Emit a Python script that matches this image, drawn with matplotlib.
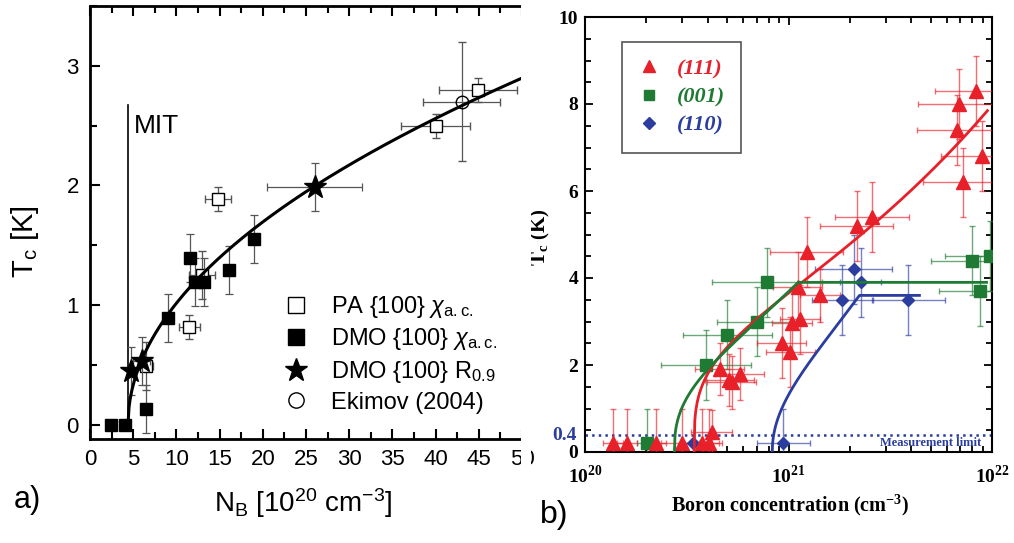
import numpy as np
import matplotlib
matplotlib.use('Agg')
import matplotlib.pyplot as plt
from matplotlib.colors import to_rgba
from matplotlib.lines import Line2D
from matplotlib.ticker import MultipleLocator, LogLocator, NullFormatter, FixedLocator

plt.rcParams['font.family'] = ['Liberation Sans', 'DejaVu Sans']
plt.rcParams['mathtext.fontset'] = 'custom'
plt.rcParams['mathtext.rm'] = 'Liberation Sans'
plt.rcParams['mathtext.it'] = 'Liberation Sans:italic'
plt.rcParams['mathtext.bf'] = 'Liberation Serif:bold'

# ---- panel a data (N_B in 1e20 cm^-3, Tc in K) ----
pa_x = [6.5, 11.5, 13.0, 14.8, 40.0, 44.9]
pa_y = [0.49, 0.82, 1.25, 1.89, 2.50, 2.80]
pa_xerr = [0.8, 1.2, 1.5, 1.5, 4.0, 4.5]
pa_yerr = [0.2, 0.1, 0.2, 0.1, 0.1, 0.1]

dmo_x = [2.4, 4.05, 6.5, 9.07, 11.6, 12.15, 13.2, 16.1, 19.0]
dmo_y = [0.0, 0.0, 0.13, 0.89, 1.39, 1.19, 1.19, 1.29, 1.55]
dmo_yerr = [0.0, 0.0, 0.2, 0.2, 0.2, 0.2, 0.2, 0.2, 0.2]

star_x = [4.75, 6.0, 26.0]
star_y = [0.45, 0.53, 1.99]
star_xerr = [0.5, 1.0, 5.5]
star_yerr = [0.2, 0.2, 0.2]

eki_x = [43.0]
eki_y = [2.70]
eki_xerr = [4.5]
eki_yerr = [0.5]

# fit Tc = A (n/nc - 1)^p
fit_a = dict(A=0.90, nc=4.4, p=0.5, end=50.0)
mit_x = 4.4
mit_top = 2.67

# ---- panel b data (boron conc. cm^-3, Tc in K) ----
r_x = [1.37e20, 1.61e20, 2.23e20, 2.99e20, 3.74e20, 4.08e20, 4.20e20,
       4.60e20, 5.12e20, 5.25e20, 5.75e20, 9.27e20, 1.02e21, 1.04e21,
       1.14e21, 1.11e21, 1.43e21, 1.23e21, 2.16e21, 2.57e21,
       6.89e21, 8.32e21, 6.76e21, 8.91e21, 7.24e21]
r_y = [0.2, 0.2, 0.2, 0.2, 0.2, 0.2, 0.47,
       1.9, 1.65, 1.6, 1.8, 2.5, 2.3, 2.96,
       3.05, 3.8, 3.6, 4.6, 5.2, 5.4,
       8.0, 8.3, 7.4, 6.8, 6.2]
r_xerr = [0.05, 0.05, 0.05, 0.1, 0.1, 0.05, 0.1,
          0.12, 0.12, 0.12, 0.12, 0.12, 0.12, 0.1,
          0.1, 0.12, 0.1, 0.18, 0.18, 0.18,
          0.2, 0.2, 0.2, 0.2, 0.2]
r_yerr = [0.8, 0.8, 0.8, 0.8, 0.8, 0.8, 0.5,
          0.6, 0.6, 0.6, 0.6, 0.8, 0.8, 0.8,
          0.8, 0.8, 0.6, 0.8, 0.8, 0.8,
          0.8, 0.8, 0.8, 0.8, 0.8]

g_x = [2.01e20, 3.92e20, 5.01e20, 7.03e20, 7.82e20, 7.94e21, 9.77e21, 8.71e21]
g_y = [0.2, 2.0, 2.7, 3.0, 3.9, 4.4, 4.5, 3.7]
g_xerr = [0.05, 0.22, 0.22, 0.2, 0.27, 0.2, 0.22, 0.2]
g_yerr = [0.8, 0.8, 0.8, 0.8, 0.8, 0.8, 0.8, 0.8]

b_x = [3.40e20, 9.44e20, 1.84e21, 2.09e21, 2.26e21, 3.88e21]
b_y = [0.2, 0.2, 3.5, 4.2, 3.9, 3.5]
b_xerr = [0.05, 0.13, 0.15, 0.19, 0.1, 0.18]
b_yerr = [0.0, 0.8, 0.8, 0.8, 0.8, 0.8]

fit_r = dict(A=3.03, nc=3.44e20, p=0.29, cap=None, end=9.5e21)
fit_g = dict(A=2.55, nc=2.75e20, p=0.38, cap=3.9, end=9.4e21)
fit_b = dict(A=2.81, nc=8.32e20, p=0.476, cap=3.6, end=4.4e21)
meas_limit = 0.4

RED = '#e8202a'
GREEN = '#1f7a34'
BLUE = '#2b3d9e'

W, H = 1014, 543
fig = plt.figure(figsize=(W / 100, H / 100), dpi=100)


def fx(px):
    return px / W


def fy(py):
    return 1 - py / H


# ================= panel a =================
ax = fig.add_axes([fx(90), fy(439), fx(522) - fx(90), fy(6) - fy(439)])
ax.set_xlim(0, 50)
ax.set_ylim(-0.12, 3.5)
ax.spines['right'].set_visible(False)
for s in ax.spines.values():
    s.set_linewidth(2)
ax.xaxis.set_major_locator(MultipleLocator(5))
ax.xaxis.set_minor_locator(MultipleLocator(2.5))
ax.yaxis.set_major_locator(MultipleLocator(1))
ax.yaxis.set_minor_locator(MultipleLocator(0.5))
ax.tick_params(which='both', direction='in', top=True, right=False, width=1.5)
ax.tick_params(which='major', length=7, labelsize=16)
ax.tick_params(which='minor', length=5)
ax.tick_params(axis='y', pad=8)
ax.tick_params(axis='x', pad=7)

ekw = dict(ecolor='#555555', elinewidth=0.9, capsize=3, capthick=0.9, ls='none')
ax.errorbar(pa_x, pa_y, xerr=pa_xerr, yerr=pa_yerr, fmt='s', mfc='white', mec='black',
            ms=8.5, mew=1, zorder=3, **ekw)
ax.errorbar(dmo_x, dmo_y, yerr=dmo_yerr, fmt='s', mfc='black', mec='black',
            ms=8.5, zorder=4, **ekw)
ax.errorbar(eki_x, eki_y, xerr=eki_xerr, yerr=eki_yerr, fmt='o', mfc='none', mec='black',
            ms=9, mew=1, zorder=4, **ekw)
ax.errorbar(star_x, star_y, xerr=star_xerr, yerr=star_yerr, fmt='*', mfc='black', mec='black',
            ms=17, zorder=5, **ekw)

n = np.linspace(fit_a['nc'], fit_a['end'], 400)
ax.plot(n, fit_a['A'] * np.sqrt(np.clip(n / fit_a['nc'] - 1, 0, None)), color='black',
        lw=2.2, zorder=6)
ax.plot([mit_x, mit_x], [-0.03, mit_top], color='black', lw=1.2)
ax.text(5.1, 2.5, 'MIT', fontsize=19, va='center', ha='left')

handles = [
    Line2D([], [], ls='none', marker='s', mfc='white', mec='black', ms=11),
    Line2D([], [], ls='none', marker='s', mfc='black', mec='black', ms=11),
    Line2D([], [], ls='none', marker='*', mfc='black', mec='black', ms=17),
    Line2D([], [], ls='none', marker='o', mfc='white', mec='black', ms=11),
]
labels = [r'PA {100} $\chi_{\mathrm{a.c.}}$', r'DMO {100} $\chi_{\mathrm{a.c.}}$',
          r'DMO {100} $\mathrm{R}_{0.9}$', 'Ekimov (2004)']
ax.legend(handles, labels, loc='upper left', bbox_to_anchor=(fx(272), fy(282)),
          bbox_transform=fig.transFigure, frameon=False, fontsize=17,
          handlelength=1.0, handletextpad=1.0, labelspacing=0.28, borderpad=0)

ax.set_xticks([0, 5, 10, 15, 20, 25, 30, 35, 40, 45, 50])
fig.text(fx(25), fy(242), r'T$_\mathrm{c}$ [K]', rotation=90, fontsize=21,
         ha='center', va='center')
fig.text(fx(303), fy(503), r'N$_\mathrm{B}$ [10$^{20}$ cm$^{-3}$]', fontsize=20,
         ha='center', va='center')
fig.text(fx(14), fy(500), 'a)', fontsize=22, ha='left', va='center')

# crop edge like the reference
fig.patches.append(plt.Rectangle((fx(521), 0), fx(10), 1, transform=fig.transFigure,
                                 facecolor='white', edgecolor='none', zorder=10))

# ================= panel b =================
serif_b = dict(family='Liberation Serif', weight='bold')
bx = fig.add_axes([fx(585), fy(452), fx(992) - fx(585), fy(17) - fy(452)])
bx.set_xscale('log')
bx.set_xlim(1e20, 1e22)
bx.set_ylim(0, 10)
for s in bx.spines.values():
    s.set_linewidth(1.5)
bx.yaxis.set_major_locator(FixedLocator([0, 2, 4, 6, 8, 10]))
bx.yaxis.set_minor_locator(MultipleLocator(0.5))
bx.xaxis.set_major_locator(FixedLocator([1e20, 1e21, 1e22]))
bx.xaxis.set_minor_locator(LogLocator(base=10, subs=np.arange(2, 10)))
bx.xaxis.set_minor_formatter(NullFormatter())
bx.tick_params(which='both', direction='in', top=True, right=True, width=1.3)
bx.tick_params(which='major', length=6)
bx.tick_params(which='minor', length=4)
bx.set_xticklabels([r'10$^{\mathbf{20}}$', r'10$^{\mathbf{21}}$', r'10$^{\mathbf{22}}$'])
bx.set_yticklabels(['0', '2', '4', '6', '8', '10'])
for lab in bx.get_xticklabels() + bx.get_yticklabels():
    lab.set_fontfamily('Liberation Serif')
    lab.set_fontweight('bold')
    lab.set_fontsize(14)
bx.tick_params(axis='x', pad=9)
bx.tick_params(axis='y', pad=5)


def xerr_dex(xs, dex):
    xs = np.array(xs)
    d = np.array(dex)
    return np.vstack([xs - xs / 10 ** d, xs * 10 ** d - xs])


def fit_curve(f):
    n = np.geomspace(f['nc'], f['end'], 500)
    t = f['A'] * np.clip(n / f['nc'] - 1, 0, None) ** f['p']
    if f['cap'] is not None:
        t = np.minimum(t, f['cap'])
    return n, t


for xs, ys, xe, ye, c, m, ms in [
        (g_x, g_y, g_xerr, g_yerr, GREEN, 's', 8),
        (b_x, b_y, b_xerr, b_yerr, BLUE, 'D', 6.5),
        (r_x, r_y, r_xerr, r_yerr, RED, '^', 9.5)]:
    bx.errorbar(xs, ys, xerr=xerr_dex(xs, xe), yerr=ye, fmt=m, color=c, mec=c,
                ms=ms, ecolor=to_rgba(c, 0.65), elinewidth=1, capsize=2, capthick=1,
                zorder=3)

for f, c in [(fit_r, RED), (fit_g, GREEN), (fit_b, BLUE)]:
    n, t = fit_curve(f)
    bx.plot(n, t, color=c, lw=2, zorder=4)

bx.axhline(meas_limit, color=BLUE, ls=':', lw=1.8, zorder=2)
bx.text(5.0e21, 0.2, 'Measurement limit', color=BLUE, fontsize=9, ha='center',
        va='center', **serif_b)
fig.text(fx(577), fy(436), '0.4', color=BLUE, fontsize=14, ha='right', va='center',
         **serif_b)

bx.legend(handles=[Line2D([], [], ls='none', marker='^', color=RED, ms=8),
                   Line2D([], [], ls='none', marker='s', color=GREEN, ms=7),
                   Line2D([], [], ls='none', marker='D', color=BLUE, ms=6)],
          labels=['(111)', '(001)', '(110)'],
          loc='upper left', bbox_to_anchor=(fx(622), fy(42)), bbox_transform=fig.transFigure,
          prop=dict(family='Liberation Serif', weight='bold', style='italic', size=16),
          fancybox=False, edgecolor='#555555', framealpha=1, borderpad=0.75,
          handlelength=0.9, handletextpad=0.8, labelspacing=0.35, borderaxespad=0)
leg = bx.get_legend()
leg.get_frame().set_linewidth(1.2)
for txt, c in zip(leg.get_texts(), [RED, GREEN, BLUE]):
    txt.set_color(c)

fig.text(fx(540), fy(237), r'T$_\mathbf{c}$ (K)', rotation=90, fontsize=15,
         ha='center', va='center', **serif_b)
fig.text(fx(790), fy(505), r'Boron concentration (cm$^{\mathbf{-3}}$)', fontsize=14.5,
         ha='center', va='center', **serif_b)
fig.text(fx(540), fy(515), 'b)', fontsize=23, ha='left', va='center')

fig.savefig('out.png', dpi=100)
